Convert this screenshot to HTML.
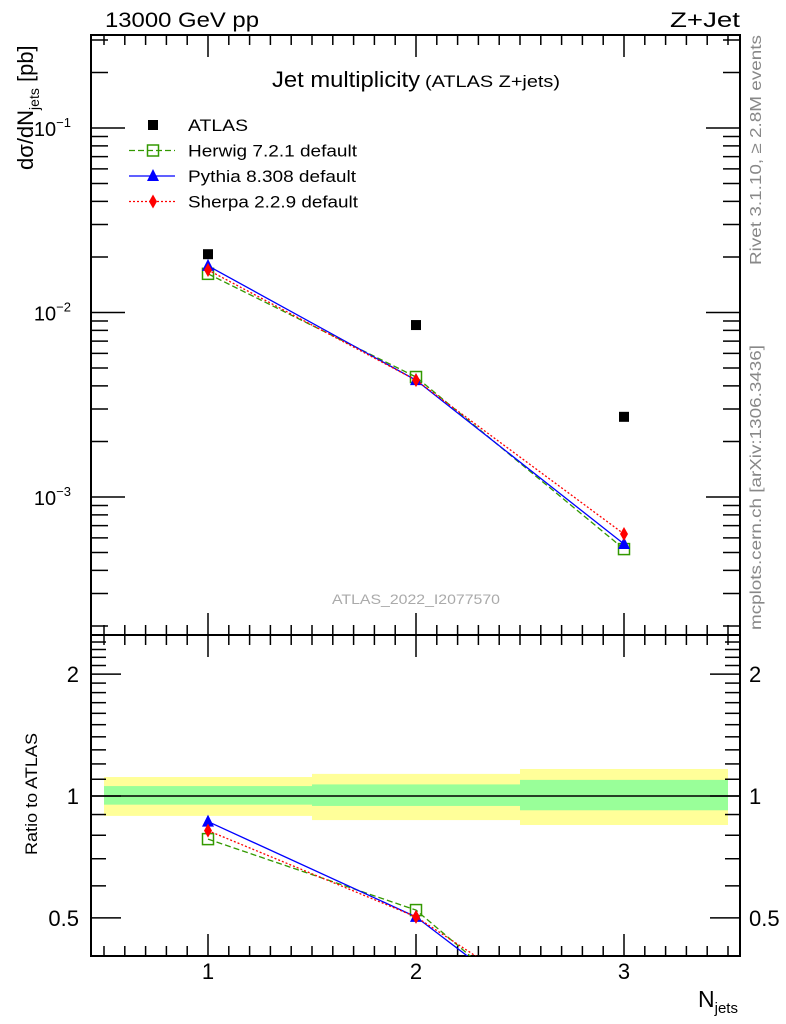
<!DOCTYPE html>
<html><head><meta charset="utf-8"><style>
html,body{margin:0;padding:0;background:#fff;overflow:hidden;width:786px;height:1024px;}
svg{font-family:"Liberation Sans",sans-serif;display:block;}
</style></head><body>
<svg id="c" width="786" height="1024" viewBox="0 0 786 1024" xmlns="http://www.w3.org/2000/svg">
<defs>
<clipPath id="mainClip"><rect x="91" y="35" width="649" height="600"/></clipPath>
<clipPath id="ratioClip"><rect x="91" y="635" width="649" height="321"/></clipPath>
</defs>
<g id="g"></g>
<text x="105" y="27" font-size="21" textLength="154" lengthAdjust="spacingAndGlyphs">13000 GeV pp</text>
<text x="670" y="27" font-size="21" textLength="70" lengthAdjust="spacingAndGlyphs">Z+Jet</text>
<text x="272" y="87" font-size="22" textLength="148" lengthAdjust="spacingAndGlyphs">Jet multiplicity</text>
<text x="425" y="87" font-size="17" textLength="135" lengthAdjust="spacingAndGlyphs">(ATLAS Z+jets)</text>
<text x="332" y="604" font-size="14" fill="#aaa" textLength="168" lengthAdjust="spacingAndGlyphs">ATLAS_2022_I2077570</text>
<text transform="translate(761,265) rotate(-90)" font-size="16" fill="#888" textLength="230" lengthAdjust="spacingAndGlyphs">Rivet 3.1.10, ≥ 2.8M events</text>
<text transform="translate(761,630) rotate(-90)" font-size="16" fill="#888" textLength="285" lengthAdjust="spacingAndGlyphs">mcplots.cern.ch [arXiv:1306.3436]</text>
<text transform="translate(33,170) rotate(-90)" font-size="22">dσ/dN<tspan font-size="14" dy="6">jets</tspan><tspan dy="-6"> [pb]</tspan></text>
<text transform="translate(37,855) rotate(-90)" font-size="17" textLength="122" lengthAdjust="spacingAndGlyphs">Ratio to ATLAS</text>
<text x="698" y="1007" font-size="23">N<tspan font-size="15" dy="6">jets</tspan></text>
</svg>
<script>
const categories=[1,2,3];
const atlas=[0.0207,0.00855,0.00272];
const herwig=[0.0162,0.00447,0.000522];
const pythia=[0.0179,0.0043,0.000556];
const sherpa=[0.0170,0.0043,0.00063];
const binEdges=[0.5,1.5,2.5,3.5];
const bandOuterHi=[1.114,1.134,1.166];
const bandOuterLo=[0.893,0.872,0.848];
const bandInnerHi=[1.058,1.068,1.096];
const bandInnerLo=[0.952,0.945,0.922];
const mainTicks=[1e-3,1e-2,1e-1];
const mainTickLabels=["10","10","10"];
const mainTickExp=["−3","−2","−1"];
const ratioTicks=[0.5,1,2];
const ratioTickLabels=["0.5","1","2"];
const xTickLabels=["1","2","3"];

const NS="http://www.w3.org/2000/svg";
const g=document.getElementById('g');
function el(t,a,p){const e=document.createElementNS(NS,t);for(const k in a)e.setAttribute(k,a[k]);(p||g).appendChild(e);return e;}
const X0=91,X1=740,MT=35,MB=635,RB=956;
const xs=v=>208+(v-1)*208;
const ym=v=>128-(Math.log10(v)+1)*184.5;
const yr=v=>796-Math.log10(v)*405;

for(let i=0;i<3;i++){
  let r=el('rect',{x:xs(binEdges[i]),y:yr(bandOuterHi[i]),width:xs(binEdges[i+1])-xs(binEdges[i]),height:yr(bandOuterLo[i])-yr(bandOuterHi[i]),fill:'#ffff99'});
  
  
  r=el('rect',{x:xs(binEdges[i]),y:yr(bandInnerHi[i]),width:xs(binEdges[i+1])-xs(binEdges[i]),height:yr(bandInnerLo[i])-yr(bandInnerHi[i]),fill:'#99ff99'});
  
  
}
let l1=el('line',{x1:X0,x2:X1,y1:yr(1),y2:yr(1),stroke:'#000','stroke-width':1.5});



[[MT,MB],[MB,RB]].forEach(([a,b],k)=>{
  const f=el('rect',{x:X0,y:a,width:X1-X0,height:b-a,fill:'none',stroke:'#000','stroke-width':2});
  
  
  for(let v=0.5;v<=3.55;v+=0.1){
    const vv=Math.round(v*10)/10; if(vv<0.44)continue;
    const maj=Math.abs(vv-Math.round(vv))<1e-6;
    const L=maj?22:10;
    el('line',{x1:xs(vv),x2:xs(vv),y1:b,y2:b-L,stroke:'#000','stroke-width':1.5});
    el('line',{x1:xs(vv),x2:xs(vv),y1:a,y2:a+L,stroke:'#000','stroke-width':1.5});
  }
});
for(let d=-4;d<=-1;d++)for(let m=1;m<=9;m++){
  const v=m*Math.pow(10,d),y=ym(v);if(y<MT||y>MB)continue;
  const L=m==1?34:17;
  el('line',{x1:X0,x2:X0+L,y1:y,y2:y,stroke:'#000','stroke-width':1.5});
  el('line',{x1:X1,x2:X1-L,y1:y,y2:y,stroke:'#000','stroke-width':1.5});
}
mainTicks.forEach((v,i)=>{
  const t=el('text',{x:71,y:ym(v)+8,'font-size':20,'text-anchor':'end'});
  t.textContent=mainTickLabels[i];
  const s=el('tspan',{dy:-9,'font-size':13},t);s.textContent=mainTickExp[i];
  
  
});
[0.4,0.5,0.6,0.7,0.8,0.9,1,1.1,1.2,1.3,1.4,1.5,1.6,1.7,1.8,1.9,2,2.1,2.2,2.3,2.4,2.5].forEach(v=>{
  const y=yr(v);if(y<MB||y>RB)return;
  const maj=[0.5,1,2].includes(v);const L=maj?30:15;
  el('line',{x1:X0,x2:X0+L,y1:y,y2:y,stroke:'#000','stroke-width':1.5});
  el('line',{x1:X1,x2:X1-L,y1:y,y2:y,stroke:'#000','stroke-width':1.5});
});
ratioTicks.forEach((v,i)=>{
  let t=el('text',{x:79,y:yr(v)+8,'font-size':22,'text-anchor':'end'});t.textContent=ratioTickLabels[i];
  
  
  t=el('text',{x:749,y:yr(v)+8,'font-size':22});t.textContent=ratioTickLabels[i];
  
  
});
categories.forEach((c,i)=>{
  const t=el('text',{x:xs(c),y:979,'font-size':22,'text-anchor':'middle'});t.textContent=xTickLabels[i];
  
  
});

function marker(type,x,y,col,par){
  if(type=='sq') return el('rect',{x:x-5.5,y:y-5.5,width:11,height:11,fill:'none',stroke:col,'stroke-width':1.5},par);
  if(type=='tri') return el('polygon',{points:`${x},${y-7} ${x-6},${y+5} ${x+6},${y+5}`,fill:col},par);
  if(type=='dia') return el('polygon',{points:`${x},${y-7} ${x-4},${y} ${x},${y+7} ${x+4},${y}`,fill:col},par);
  return el('rect',{x:x-5,y:y-5,width:10,height:10,fill:col},par);
}
const series=[
 {name:'herwig',d:herwig,col:'#339900',dash:'6,3',m:'sq'},
 {name:'pythia',d:pythia,col:'#0000ff',dash:'',m:'tri'},
 {name:'sherpa',d:sherpa,col:'#ff0000',dash:'2,2',m:'dia'}];
const gm=el('g',{'clip-path':'url(#mainClip)'});
const gr=el('g',{'clip-path':'url(#ratioClip)'});
series.forEach(s=>{
  let p=el('polyline',{points:categories.map((c,i)=>xs(c)+','+ym(s.d[i])).join(' '),fill:'none',stroke:s.col,'stroke-width':1.3,'stroke-dasharray':s.dash},gm);
  
  
  p=el('polyline',{points:categories.map((c,i)=>xs(c)+','+yr(s.d[i]/atlas[i])).join(' '),fill:'none',stroke:s.col,'stroke-width':1.3,'stroke-dasharray':s.dash},gr);
  
  
  categories.forEach((c,i)=>{
    let m=marker(s.m,xs(c),ym(s.d[i]),s.col,gm);
    
    
    m=marker(s.m,xs(c),yr(s.d[i]/atlas[i]),s.col,gr);
    
    
  });
});
categories.forEach((c,i)=>{
  const m=marker('fill',xs(c),ym(atlas[i]),'#000',gm);
  
  
});
const leg=[{t:'ATLAS',m:'fill',col:'#000',dash:null,w:60},{t:'Herwig 7.2.1 default',m:'sq',col:'#339900',dash:'6,3',w:169},
 {t:'Pythia 8.308 default',m:'tri',col:'#0000ff',dash:'',w:168},{t:'Sherpa 2.2.9 default',m:'dia',col:'#ff0000',dash:'2,2',w:170}];
leg.forEach((e,i)=>{
  const y=125+i*25.5;
  const lg=el('g',{});
  
  
  if(e.dash!==null) el('line',{x1:129,x2:175,y1:y,y2:y,stroke:e.col,'stroke-width':1.3,'stroke-dasharray':e.dash},lg);
  marker(e.m,153,y,e.col,lg);
  const t=el('text',{x:188,y:y+6,'font-size':17,textLength:e.w,lengthAdjust:'spacingAndGlyphs'},lg);t.textContent=e.t;
});
</script>
</body></html>
